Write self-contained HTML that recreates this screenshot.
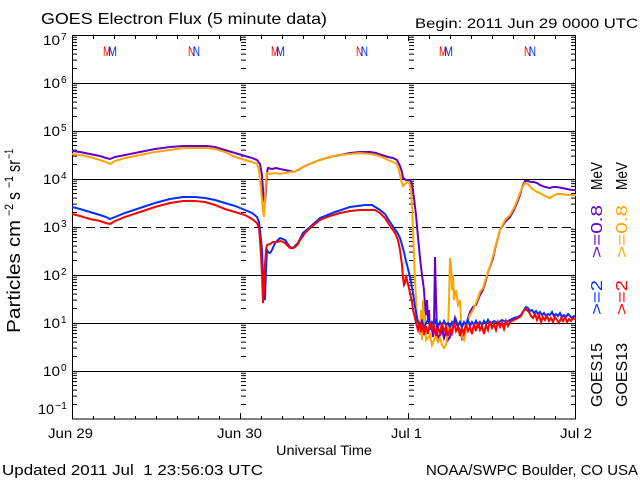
<!DOCTYPE html>
<html><head><meta charset="utf-8"><style>
html,body{margin:0;padding:0;background:#fff;}
svg{display:block;}
text{font-family:"Liberation Sans",sans-serif;fill:#000;}
</style></head><body>
<svg width="640" height="480" viewBox="0 0 640 480" xmlns="http://www.w3.org/2000/svg">
<defs>
<path id="lt" d="M0 68.55h5M0 60.1h5M0 54.1h5M0 49.45h5M0 45.65h5M0 42.43h5M0 39.65h5M0 37.2h5
M0 116.55h5M0 108.1h5M0 102.1h5M0 97.45h5M0 93.65h5M0 90.43h5M0 87.65h5M0 85.2h5
M0 164.55h5M0 156.1h5M0 150.1h5M0 145.45h5M0 141.65h5M0 138.43h5M0 135.65h5M0 133.2h5
M0 212.55h5M0 204.1h5M0 198.1h5M0 193.45h5M0 189.65h5M0 186.43h5M0 183.65h5M0 181.2h5
M0 260.55h5M0 252.1h5M0 246.1h5M0 241.45h5M0 237.65h5M0 234.43h5M0 231.65h5M0 229.2h5
M0 308.55h5M0 300.1h5M0 294.1h5M0 289.45h5M0 285.65h5M0 282.43h5M0 279.65h5M0 277.2h5
M0 356.55h5M0 348.1h5M0 342.1h5M0 337.45h5M0 333.65h5M0 330.43h5M0 327.65h5M0 325.2h5
M0 404.55h5M0 396.1h5M0 390.1h5M0 385.45h5M0 381.65h5M0 378.43h5M0 375.65h5M0 373.2h5" stroke="#000" stroke-width="1" fill="none"/>
<clipPath id="pc"><rect x="72" y="35" width="504" height="384"/></clipPath>
</defs>

<!-- title -->
<text x="41" y="24" font-size="16" textLength="286" lengthAdjust="spacingAndGlyphs">GOES Electron Flux (5 minute data)</text>
<text x="415" y="28" font-size="14" textLength="223" lengthAdjust="spacingAndGlyphs">Begin: 2011 Jun 29 0000 UTC</text>

<!-- grid -->
<g stroke="#000" stroke-width="1" fill="none">
<path d="M72 83.5H576M72 131.5H576M72 179.5H576M72 275.5H576M72 323.5H576M72 371.5H576"/>
<path d="M72 227.5H576" stroke-dasharray="9 5"/>
<rect x="72.5" y="35.5" width="503" height="383.5"/>
<path d="M93.5 419v-3M114.5 419v-3M135.5 419v-3M156.5 419v-3M177.5 419v-3M198.5 419v-3M219.5 419v-3M240.5 419v-6M261.5 419v-3M282.5 419v-3M303.5 419v-3M324.5 419v-3M345.5 419v-3M366.5 419v-3M387.5 419v-3M408.5 419v-6M429.5 419v-3M450.5 419v-3M471.5 419v-3M492.5 419v-3M513.5 419v-3M534.5 419v-3M555.5 419v-3"/>
<path d="M93.5 35v4M114.5 35v4M135.5 35v4M156.5 35v4M177.5 35v4M198.5 35v4M219.5 35v4M240.5 35v6M261.5 35v4M282.5 35v4M303.5 35v4M324.5 35v4M345.5 35v4M366.5 35v4M387.5 35v4M408.5 35v6M429.5 35v4M450.5 35v4M471.5 35v4M492.5 35v4M513.5 35v4M534.5 35v4M555.5 35v4"/>
</g>
<use href="#lt" transform="translate(72,0)"/>
<use href="#lt" transform="translate(241,0)"/>
<use href="#lt" transform="translate(409,0)"/>
<use href="#lt" transform="translate(576,0) scale(-1,1)"/>

<!-- data -->
<g clip-path="url(#pc)" fill="none" stroke-width="2" stroke-linejoin="miter">
<polyline stroke="#6400c8" points="72,151 80,152 90,154 100,156 106,158 110,159 115,157 125,155 140,152 155,149 170,147 183,146 195,146 207,146 215,147 225,150 235,153 245,156 252,158 257,160 260,164 262,175 263,190 264,200 265,203 266,190 267,172 268,168 272,169 276,168 280,169 285,170 290,171 294,172 298,170 305,166 312,163 320,160 330,157 340,155 350,153 360,152 370,152 376,153 382,155 388,157 393,158 397,160 400,166 402,172 403,178 406,180 410,180 412,184 414,198 416,215 418,237 420,258 422,275 424,290 425,305 426,315 427,300 428,320 429,310 430,330 431,322 433,337 434,325 435,257 436,300 437,330 438,340 440,335 442,330 444,338 446,332 448,340 450,337 452,330 455,318 457,325 460,330 462,338 464,332 466,325 468,318 470,312 473,307 476,305 478,300 480,295 483,290 486,280 488,272 490,267 493,258 496,245 500,230 505,222 510,217 514,210 517,203 520,195 523,185 525,181 528,181 531,182 534,182 537,183 540,185 545,187 550,188 553,187 557,187 562,188 567,189 572,190 576,190"/>
<polyline stroke="#ffa500" points="72,154 80,155 90,157 100,160 106,162 110,164 115,161 125,158 140,155 155,152 170,150 183,148 195,148 207,148 215,149 225,152 235,157 245,160 252,162 257,164 259,170 260,180 261,190 262,200 263,210 264,217 265,200 266,180 267,173 270,174 275,173 280,174 285,173 290,172 294,172 298,170 305,166 312,163 320,160 330,157 340,155 350,154 360,153 370,154 376,155 382,157 388,160 393,162 397,164 399,170 401,180 403,186 405,184 407,182 409,182 411,190 412,205 413,230 414,255 415,280 416,300 417,318 418,330 419,320 420,335 421,310 422,340 423,300 424,328 425,315 426,340 428,338 430,335 432,345 434,340 436,336 438,342 440,338 442,345 444,348 446,345 448,330 449,300 450,258 451,265 452,290 453,275 454,300 456,290 458,305 460,300 461,320 462,337 464,340 466,330 468,320 470,315 473,310 476,303 478,298 480,292 483,288 486,278 488,272 490,266 493,256 496,244 500,230 505,220 510,215 514,208 517,201 520,193 523,186 525,183 528,184 531,188 534,190 537,192 540,193 545,196 550,198 553,196 557,194 562,194 567,195 572,195 576,195"/>
<polyline stroke="#0030ff" points="72,207 80,209 90,212 100,215 106,217 110,219 115,217 125,213 140,208 155,203 170,199 183,197 195,197 205,198 215,200 225,203 235,206 245,210 252,213 257,217 259,222 260,230 261,240 262,250 263,275 264,297 265,300 266,270 267,250 268,252 270,253 272,250 275,243 280,238 285,240 290,247 293,248 298,243 303,233 310,227 320,218 335,212 350,207 365,205 372,205 380,210 385,214 390,222 394,228 397,232 400,238 402,245 404,252 405,257 407,265 410,277 413,293 415,307 417,318 418,322 420,326 422,321 424,328 426,323 428,320 430,326 432,322 434,325 436,320 438,327 440,322 442,326 444,321 446,325 448,323 450,327 452,322 454,325 456,320 458,326 460,322 462,327 464,322 466,325 468,320 470,326 472,322 474,325 476,321 478,326 480,322 482,325 484,321 486,324 488,320 490,324 494,321 498,323 502,320 506,322 510,320 514,318 518,317 521,315 524,310 526,307 528,308 530,311 532,310 534,313 536,311 538,314 540,312 542,315 544,313 546,316 548,314 550,315 552,312 554,316 556,314 558,316 560,313 562,317 564,315 566,317 568,314 570,316 572,318 574,316 576,317"/>
<polyline stroke="#ff0000" points="72,214 80,216 90,219 100,221 106,223 110,224 115,221 125,217 140,212 155,207 170,203 183,201 195,201 205,202 215,205 225,209 235,212 245,215 252,219 257,223 259,228 260,240 261,255 262,275 263,303 264,290 265,265 266,250 267,245 270,244 273,242 277,242 281,241 285,243 288,246 290,248 293,248 295,247 298,244 300,240 303,236 305,233 310,228 320,220 330,216 340,213 350,211 360,210 368,210 375,210 380,213 385,218 390,226 395,233 398,240 400,250 402,265 403,278 404,285 405,283 406,275 407,280 409,288 410,293 412,302 413,310 415,318 416,323 418,330 420,322 421,332 423,324 424,335 426,326 428,334 430,322 432,330 434,325 436,336 438,328 440,333 442,323 444,331 446,327 448,336 450,329 452,333 454,322 456,331 458,327 460,336 462,329 464,333 466,324 468,331 470,327 472,334 474,324 476,331 478,322 480,330 482,326 484,334 486,325 488,330 490,321 492,328 494,324 496,330 498,322 500,327 502,323 504,329 506,321 508,326 510,322 514,320 518,318 521,316 523,312 525,309 527,310 529,312 531,316 533,318 535,314 537,320 539,315 541,322 543,317 545,320 547,316 549,321 551,318 553,322 555,317 557,320 559,323 561,318 563,321 565,317 567,322 569,319 571,321 573,318 576,320"/>
</g>

<!-- M / N markers -->
<g font-size="14">
<text x="103" y="56" fill="#ff0000" style="fill:#ff0000" textLength="8" lengthAdjust="spacingAndGlyphs">M</text>
<text x="108" y="56" style="fill:#0030ff" textLength="9" lengthAdjust="spacingAndGlyphs">M</text>
<text x="188" y="56" style="fill:#ff0000" textLength="7" lengthAdjust="spacingAndGlyphs">N</text>
<text x="193" y="56" style="fill:#0030ff" textLength="7" lengthAdjust="spacingAndGlyphs">N</text>
<text x="271" y="56" style="fill:#ff0000" textLength="8" lengthAdjust="spacingAndGlyphs">M</text>
<text x="276" y="56" style="fill:#0030ff" textLength="9" lengthAdjust="spacingAndGlyphs">M</text>
<text x="356" y="56" style="fill:#ff0000" textLength="7" lengthAdjust="spacingAndGlyphs">N</text>
<text x="361" y="56" style="fill:#0030ff" textLength="7" lengthAdjust="spacingAndGlyphs">N</text>
<text x="439" y="56" style="fill:#ff0000" textLength="8" lengthAdjust="spacingAndGlyphs">M</text>
<text x="444" y="56" style="fill:#0030ff" textLength="9" lengthAdjust="spacingAndGlyphs">M</text>
<text x="524" y="56" style="fill:#ff0000" textLength="7" lengthAdjust="spacingAndGlyphs">N</text>
<text x="529" y="56" style="fill:#0030ff" textLength="7" lengthAdjust="spacingAndGlyphs">N</text>
</g>

<!-- y tick labels -->
<g font-size="14">
<text x="43" y="45" textLength="17" lengthAdjust="spacingAndGlyphs">10</text><text x="61" y="40" font-size="10">7</text>
<text x="43" y="88" textLength="17" lengthAdjust="spacingAndGlyphs">10</text><text x="61" y="83" font-size="10">6</text>
<text x="43" y="136" textLength="17" lengthAdjust="spacingAndGlyphs">10</text><text x="61" y="131" font-size="10">5</text>
<text x="43" y="184" textLength="17" lengthAdjust="spacingAndGlyphs">10</text><text x="61" y="179" font-size="10">4</text>
<text x="43" y="232" textLength="17" lengthAdjust="spacingAndGlyphs">10</text><text x="61" y="227" font-size="10">3</text>
<text x="43" y="280" textLength="17" lengthAdjust="spacingAndGlyphs">10</text><text x="61" y="275" font-size="10">2</text>
<text x="43" y="328" textLength="17" lengthAdjust="spacingAndGlyphs">10</text><text x="61" y="323" font-size="10">1</text>
<text x="43" y="376" textLength="17" lengthAdjust="spacingAndGlyphs">10</text><text x="61" y="371" font-size="10">0</text>
<text x="38" y="414" textLength="16" lengthAdjust="spacingAndGlyphs">10</text><text x="55" y="409" font-size="10" textLength="12" lengthAdjust="spacingAndGlyphs">−1</text>
</g>

<!-- y axis title -->
<g transform="translate(20,333) rotate(-90)">
<text font-size="18"><tspan x="0" y="0" textLength="80" lengthAdjust="spacingAndGlyphs">Particles</tspan><tspan x="86" y="0" textLength="27" lengthAdjust="spacingAndGlyphs">cm</tspan><tspan x="117" y="-7" font-size="12" textLength="12" lengthAdjust="spacingAndGlyphs">−2</tspan><tspan x="133" y="0" textLength="8" lengthAdjust="spacingAndGlyphs">s</tspan><tspan x="145" y="-7" font-size="12" textLength="12" lengthAdjust="spacingAndGlyphs">−1</tspan><tspan x="161" y="0" textLength="12" lengthAdjust="spacingAndGlyphs">sr</tspan><tspan x="174" y="-7" font-size="12" textLength="10" lengthAdjust="spacingAndGlyphs">−1</tspan></text>
</g>

<!-- x labels -->
<g font-size="14">
<text x="48" y="438" textLength="45" lengthAdjust="spacingAndGlyphs">Jun 29</text>
<text x="217" y="438" textLength="45" lengthAdjust="spacingAndGlyphs">Jun 30</text>
<text x="391" y="438" textLength="31" lengthAdjust="spacingAndGlyphs">Jul 1</text>
<text x="560" y="438" textLength="32" lengthAdjust="spacingAndGlyphs">Jul 2</text>
<text x="276" y="455" textLength="96" lengthAdjust="spacingAndGlyphs">Universal Time</text>
<text x="2" y="475" font-size="15" textLength="261" lengthAdjust="spacingAndGlyphs">Updated 2011 Jul&#160; 1 23:56:03 UTC</text>
<text x="426" y="475" font-size="15" textLength="212" lengthAdjust="spacingAndGlyphs">NOAA/SWPC Boulder, CO USA</text>
</g>

<!-- legend (rotated) -->
<g font-size="16">
<g transform="translate(602,0) rotate(-90)">
<text x="-407" y="0" textLength="64" lengthAdjust="spacingAndGlyphs">GOES15</text>
<text x="-315" y="0" style="fill:#0030ff" textLength="35" lengthAdjust="spacingAndGlyphs">&gt;=2</text>
<text x="-258" y="0" style="fill:#6400c8" textLength="53" lengthAdjust="spacingAndGlyphs">&gt;=0.8</text>
<text x="-190" y="0" textLength="28" lengthAdjust="spacingAndGlyphs">MeV</text>
</g>
<g transform="translate(627,0) rotate(-90)">
<text x="-407" y="0" textLength="64" lengthAdjust="spacingAndGlyphs">GOES13</text>
<text x="-315" y="0" style="fill:#ff0000" textLength="35" lengthAdjust="spacingAndGlyphs">&gt;=2</text>
<text x="-258" y="0" style="fill:#ffa500" textLength="53" lengthAdjust="spacingAndGlyphs">&gt;=0.8</text>
<text x="-190" y="0" textLength="28" lengthAdjust="spacingAndGlyphs">MeV</text>
</g>
</g>
</svg>
</body></html>
